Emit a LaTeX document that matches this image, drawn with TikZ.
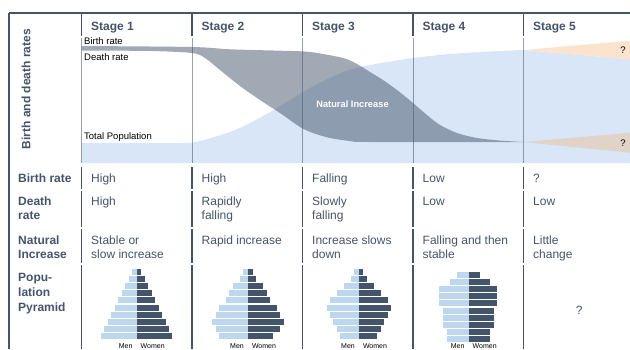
\documentclass[tikz,border=0pt]{standalone}
\usepackage{fontspec}
\setmainfont{Liberation Sans}
\definecolor{slate}{HTML}{44546A}
\definecolor{popblue}{HTML}{D9E6F8}
\definecolor{menblue}{HTML}{BDD7EE}
\definecolor{wedgeA}{HTML}{FBE3CD}
\definecolor{wedgeB}{HTML}{E2D3C8}
\newcommand\drawpyr[4]{%
  \foreach \m/\w [count=\i from 0] in {#4} {
    \fill[menblue] ({#1-\m},{#2+\i*#3}) rectangle ({#1},{#2+\i*#3+6});
    \fill[slate] ({#1},{#2+\i*#3}) rectangle ({#1+\w},{#2+\i*#3+6});
  }}
\begin{document}
\begin{tikzpicture}[x=1pt,y=-1pt,
  frame/.style={draw=slate,line width=1.1pt},
  chartdiv/.style={draw=slate,draw opacity=0.55,line width=0.9pt},
  val/.style={anchor=base west,inner sep=0,text=slate,font=\fontsize{12}{14}\selectfont},
  rowlbl/.style={anchor=base west,inner sep=0,text=slate,font=\bfseries\fontsize{12}{14}\selectfont},
  stagelbl/.style={anchor=base west,inner sep=0,text=slate,font=\bfseries\fontsize{12}{14}\selectfont},
  small/.style={anchor=base west,inner sep=0,text=black,font=\fontsize{9.5}{11}\selectfont},
  tiny/.style={anchor=base,inner sep=0,text=black,font=\fontsize{7}{8}\selectfont}]
\useasboundingbox (0,0) rectangle (630,349);
% chart fills
\fill[popblue] (81.5,163) -- plot[smooth,tension=0.5] coordinates {(81.5,143) (180,143) (200,141) (230,132) (250,123) (270,112) (290,100) (310,88) (343,72) (370,65) (413,58) (450,54) (490,51.5) (523.5,50)} -- (630,59.3) -- (630,163) -- cycle;
\fill[slate,opacity=0.5] plot[smooth,tension=0.5] coordinates {(81.5,46) (192,47) (230,49.3) (280,50.7) (310,52) (343,58) (357,64) (370,72) (383,80) (397,90) (413,103) (427,115) (440,125) (457,133) (477,138) (500,140.5) (523.5,142)} -- plot[smooth,tension=0.5] coordinates {(523.5,142) (370,142) (350,141) (330,138) (313,133) (300,127) (280,113) (260,100) (240,86) (220,70) (205,58) (192,53) (150,51) (81.5,50.5)} -- cycle;
\fill[wedgeA] (523.5,50) -- (630,40.7) -- (630,59.3) -- cycle;
\fill[wedgeB] (523.5,142) -- (630,132.7) -- (630,152.7) -- cycle;
% frame and dividers
\draw[frame] (9,13) -- (630,13);
\draw[frame] (9,13) -- (9,349);
\foreach \x in {81.5,192,302.5,413,523.5} {
  \draw[frame] (\x,13) -- (\x,35.5);
  \draw[chartdiv] (\x,37.5) -- (\x,163);
  \draw[frame] (\x,166.5) -- (\x,188.5);
  \draw[frame] (\x,190.5) -- (\x,226.5);
  \draw[frame] (\x,228.5) -- (\x,263);
  \draw[frame] (\x,265) -- (\x,349);
}
% chart labels
\node[small] (lbirth) at (84,44) {Birth rate};
\node[small] (ldeath) at (84,60.5) {Death rate};
\node[small] (ltotal) at (84,139.3) {Total Population};
\node[inner sep=0,text=white,font=\bfseries\fontsize{9.3}{10}\selectfont] (lni) at (352.5,104) {Natural Increase};
\node[inner sep=0,text=black,font=\fontsize{9.5}{11}\selectfont] (q1) at (623,50) {?};
\node[inner sep=0,text=black,font=\fontsize{9.5}{11}\selectfont] (q2) at (623,142.7) {?};
\node[rotate=90,inner sep=0,text=slate,font=\bfseries\fontsize{12}{14}\selectfont] (yl) at (26,89) {Birth and death rates};
% stage headers
\node[stagelbl] (s1) at (91,30) {Stage 1};
\node[stagelbl] (s2) at (201.5,30) {Stage 2};
\node[stagelbl] (s3) at (312,30) {Stage 3};
\node[stagelbl] (s4) at (422.5,30) {Stage 4};
\node[stagelbl] (s5) at (533,30) {Stage 5};
% row labels
\node[rowlbl] (r1) at (18,182) {Birth rate};
\node[rowlbl] (r2a) at (18,205.3) {Death};
\node[rowlbl] (r2b) at (18,219.5) {rate};
\node[rowlbl] (r3a) at (18,244) {Natural};
\node[rowlbl] (r3b) at (18,258) {Increase};
\node[rowlbl] (r4a) at (18,281) {Popu-};
\node[rowlbl] (r4b) at (18,296) {lation};
\node[rowlbl] (r4c) at (18,311) {Pyramid};
% values
\node[val] (b1) at (91,182) {High};
\node[val] (b2) at (201.5,182) {High};
\node[val] (b3) at (312,182) {Falling};
\node[val] (b4) at (422.5,182) {Low};
\node[val] (b5) at (533,182) {?};
\node[val] (d1) at (91,205.3) {High};
\node[val] (d2a) at (201.5,205.3) {Rapidly};
\node[val] (d2b) at (201.5,219.5) {falling};
\node[val] (d3a) at (312,205.3) {Slowly};
\node[val] (d3b) at (312,219.5) {falling};
\node[val] (d4) at (422.5,205.3) {Low};
\node[val] (d5) at (533,205.3) {Low};
\node[val] (n1a) at (91,244) {Stable or};
\node[val] (n1b) at (91,258) {slow increase};
\node[val] (n2) at (201.5,244) {Rapid increase};
\node[val] (n3a) at (312,244) {Increase slows};
\node[val] (n3b) at (312,258) {down};
\node[val] (n4a) at (422.5,244) {Falling and then};
\node[val] (n4b) at (422.5,258) {stable};
\node[val] (n5a) at (533,244) {Little};
\node[val] (n5b) at (533,258) {change};
% pyramids
\drawpyr{136.7}{269}{7.1}{4.3/4.3,7.7/8,11.3/11.7,15/15,18.3/18.3,21.7/22,25.3/25.7,28.7/29,32.3/32.3,35.7/35.7}
\drawpyr{248}{269}{7.1}{4.7/4.7,8/8,14.7/14.7,18.7/18.7,22/22,28.7/28.7,32/32,35.7/35.7,32/32,28.7/25.3}
\drawpyr{359}{269}{7.1}{4.7/4.3,8.3/7.7,15.3/15,22.3/21.7,29/28.7,32.3/32,29/28.7,25.7/25,22.3/21.7,18.7/18.3}
\drawpyr{468.7}{271.5}{7.2}{12/11.3,18.7/21.7,29.3/28.7,29.3/28.7,29.3/28.7,26/25,26/25,26/25,22/21.7,22/21.7}
\node[tiny] (m1) at (125.7,348.2) {Men};
\node[tiny] (w1) at (152.7,348.2) {Women};
\node[tiny] (m2) at (237,348.2) {Men};
\node[tiny] (w2) at (264,348.2) {Women};
\node[tiny] (m3) at (348,348.2) {Men};
\node[tiny] (w3) at (375,348.2) {Women};
\node[tiny] (m4) at (457.7,348.2) {Men};
\node[tiny] (w4) at (484.7,348.2) {Women};
\node[inner sep=0,text=slate,font=\fontsize{12}{14}\selectfont] (q5) at (579.3,310) {?};
\end{tikzpicture}
\end{document}
